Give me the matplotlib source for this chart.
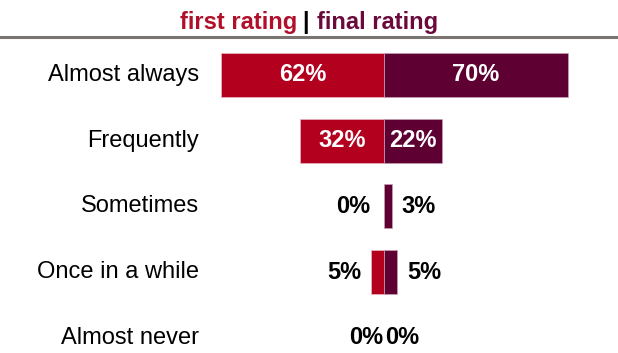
import matplotlib.pyplot as plt
from matplotlib.lines import Line2D
from matplotlib.transforms import blended_transform_factory, offset_copy

# Share of answers per frequency bucket (%)
CATEGORIES = ["Almost always", "Frequently", "Sometimes", "Once in a while", "Almost never"]
FIRST_RATING = [62, 32, 0, 5, 0]
FINAL_RATING = [70, 22, 3, 5, 0]

RED = "#b3001e"
PURPLE = "#5e0032"
INSIDE_MIN = 10  # bars at least this wide get their label inside

plt.rcParams["font.family"] = ["Liberation Sans", "DejaVu Sans"]
FS = 17

fig = plt.figure(figsize=(6.18, 3.53), dpi=100)
W, H = 618, 353
ax = fig.add_axes([0, 0, 1, 311 / H])

ypos = list(range(len(CATEGORIES)))
# no outline on empty bars, otherwise a hairline shows at zero
ax.barh(ypos, [-v for v in FIRST_RATING], height=0.67, color=RED,
        edgecolor="#e8b8c4", linewidth=[0.5 if v else 0 for v in FIRST_RATING])
ax.barh(ypos, FINAL_RATING, height=0.67, color=PURPLE,
        edgecolor="#c8a0b4", linewidth=[0.5 if v else 0 for v in FINAL_RATING])

px = 2.63  # pixels per percentage point
ax.set_xlim(-384 / px, (W - 384) / px)
ax.set_ylim(4 + (H - 338) / 65.75, -0.5)
ax.axis("off")

# category names, right aligned left of the bars
trans = blended_transform_factory(fig.transFigure, ax.transData)
for y, name in zip(ypos, CATEGORIES):
    ax.text(199 / W, y, name, transform=trans, ha="right", va="center",
            fontsize=FS, color="black")


def value_label(y, v, other, side):
    sign = -1 if side == "left" else 1
    txt = f"{v}%"
    if v >= INSIDE_MIN:
        ax.text(sign * v / 2, y, txt, ha="center", va="center", fontsize=FS,
                fontweight="bold", color="white")
        return
    # small bars: label outside the bar end
    gap = 7 if (v > 0 or other > 0) else 0.5
    if side == "left" and v == 0 and other > 0:
        gap = 10
    tr = offset_copy(ax.transData, fig=fig, x=sign * gap, y=0, units="points")
    ax.text(sign * v, y, txt, transform=tr,
            ha="right" if side == "left" else "left", va="center",
            fontsize=FS, fontweight="bold", color="black")


for y, a, b in zip(ypos, FIRST_RATING, FINAL_RATING):
    value_label(y, a, b, "left")
    value_label(y, b, a, "right")

# legend-style title: first rating | final rating
ty = 1 - 29 / H
fig.text(297 / W, ty, "first rating", ha="right", va="baseline", fontsize=FS,
         fontweight="bold", color="#b0102a")
fig.text(306 / W, ty, "|", ha="center", va="baseline", fontsize=FS,
         fontweight="bold", color="black")
fig.text(317 / W, ty, "final rating", ha="left", va="baseline", fontsize=FS,
         fontweight="bold", color="#6a0a3c")
fig.add_artist(Line2D([0, 1], [1 - 36.7 / H] * 2, transform=fig.transFigure,
                      color="#7a7570", linewidth=2.2))

fig.savefig("out.png", dpi=100)
